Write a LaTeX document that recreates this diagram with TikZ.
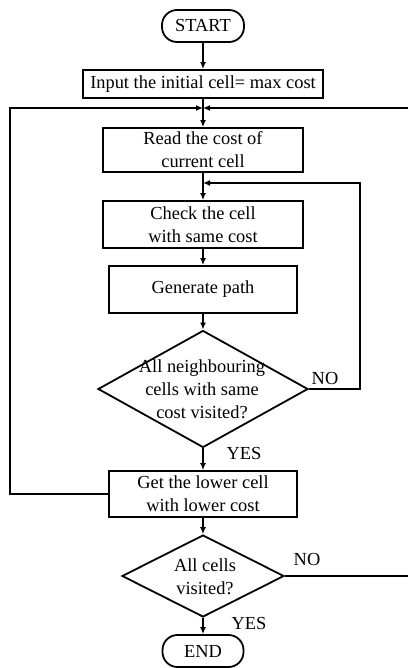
\documentclass[tikz,border=0pt]{standalone}
\usepackage{fontspec}
\setmainfont{Liberation Serif}
\usetikzlibrary{arrows.meta,shapes.geometric}
\begin{document}
\begin{tikzpicture}[x=1pt,y=-1pt,
  line width=1.8pt,
  font=\fontsize{18.4}{23}\selectfont,
  arr/.style={-{Latex[length=7pt,width=6pt]}},
  procbox/.style={draw,rectangle,inner sep=0pt,align=center},
  termbox/.style={draw,rectangle,rounded corners=15pt,inner sep=0pt,
    minimum width=82pt,minimum height=32pt},
  decbox/.style={draw,diamond,inner sep=0pt},
  lbl/.style={inner sep=0pt,align=center}]
\useasboundingbox (0,0) rectangle (408,668);

% main column
\node[termbox] (start) at (203,26) {START};
\node[procbox,minimum width=240pt,minimum height=28pt] (input) at (203,84)
  {Input the initial cell= max cost};
\node[procbox,minimum width=200pt,minimum height=44pt] (read) at (203,150)
  {Read the cost of\\current cell};
\node[procbox,minimum width=200pt,minimum height=47pt] (check) at (203,224.5)
  {Check the cell\\with same cost};
\node[procbox,minimum width=188pt,minimum height=47pt] (gen) at (203,289.5)
  {Generate path};
\node[decbox,minimum width=210pt,minimum height=117pt,aspect=1.795] (dec1) at (203,389) {};
\node[lbl] (dec1t) at (202,389) {All neighbouring\\cells with same\\cost visited?};
\node[procbox,minimum width=188pt,minimum height=46pt] (get) at (203,494)
  {Get the lower cell\\with lower cost};
\node[decbox,minimum width=162pt,minimum height=82pt,aspect=1.976] (dec2) at (203,576) {};
\node[lbl] (dec2t) at (205,577) {All cells\\visited?};
\node[termbox,minimum width=81pt] (end) at (203,651) {END};

% branch labels
\node[lbl] (no1) at (325,378) {NO};
\node[lbl] (yes1) at (244,453) {YES};
\node[lbl] (no2) at (307,559) {NO};
\node[lbl] (yes2) at (249,623) {YES};

% junction points and loop corners
\coordinate (j1) at (203,108);
\coordinate (j2) at (203,183);
\coordinate (lc1) at (10,494);
\coordinate (lc2) at (10,108);
\coordinate (rc1) at (360,389);
\coordinate (rc2) at (360,183);
\coordinate (rt) at (408,108);
\coordinate (rb) at (408,576);

% straight flow
\draw[arr] (start) -- (input);
\draw (input) -- (j1);
\draw[arr] (j1) -- (read);
\draw (read) -- (j2);
\draw[arr] (j2) -- (check);
\draw[arr] (check) -- (gen);
\draw[arr] (gen) -- (dec1.north);
\draw[arr] (dec1.south) -- (get);
\draw[arr] (get) -- (dec2.north);
\draw[arr] (dec2.south) -- (end);

% loops back
\draw[arr] (dec1.east) -- (rc1) -- (rc2) -- (j2);
\draw[arr] (get.west) -- (lc1) -- (lc2) -- (j1);
\draw[arr] (rt) -- (j1);
\draw (dec2.east) -- (rb);
\end{tikzpicture}
\end{document}
